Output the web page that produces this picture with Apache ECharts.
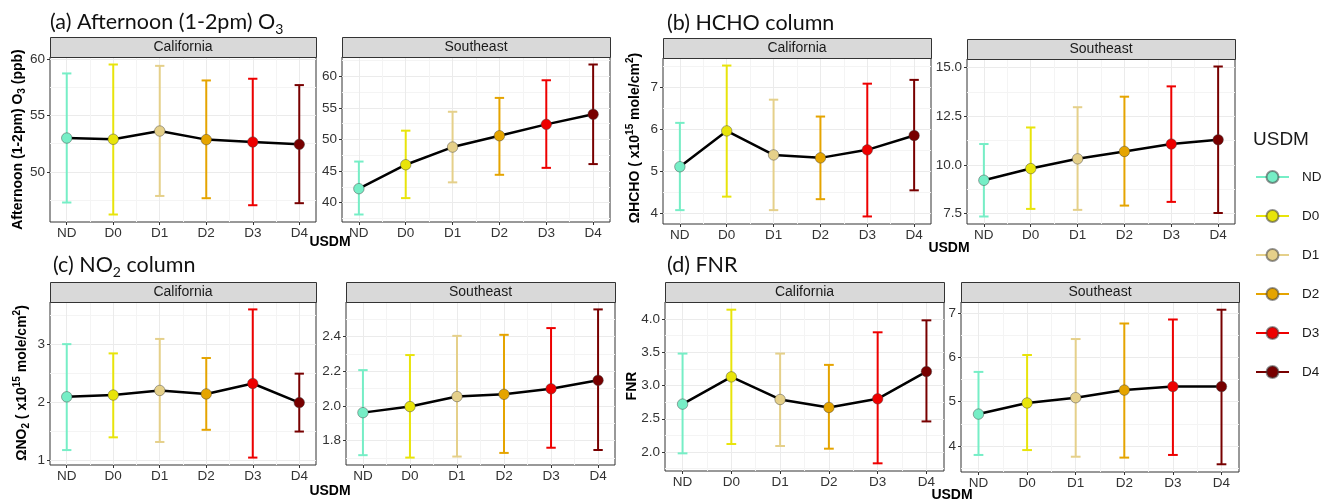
<!DOCTYPE html>
<html><head><meta charset="utf-8">
<script src="https://cdn.jsdelivr.net/npm/echarts@6/dist/echarts.min.js"></script>
<style>html,body{margin:0;padding:0;background:#fff}#c{width:1330px;height:501px}</style>
</head><body><div id="c"></div>
<script>
// ---------- data ----------
const categories = ['ND', 'D0', 'D1', 'D2', 'D3', 'D4'];
const regions = ['California', 'Southeast'];

const o3CalMean = [53.0, 52.89, 53.62, 52.86, 52.65, 52.44];
const o3CalLow  = [47.3, 46.24, 47.88, 47.68, 47.06, 47.24];
const o3CalHigh = [58.71, 59.5, 59.38, 58.09, 58.24, 57.68];
const o3SeMean  = [42.2, 46.0, 48.8, 50.6, 52.4, 54.0];
const o3SeLow   = [38.1, 40.7, 43.2, 44.4, 45.5, 46.1];
const o3SeHigh  = [46.5, 51.4, 54.4, 56.6, 59.4, 61.9];

const hchoCalMean = [5.11, 5.96, 5.39, 5.32, 5.51, 5.85];
const hchoCalLow  = [4.08, 4.40, 4.08, 4.34, 3.93, 4.55];
const hchoCalHigh = [6.15, 7.51, 6.70, 6.30, 7.08, 7.17];
const hchoSeMean  = [9.21, 9.81, 10.31, 10.69, 11.07, 11.29];
const hchoSeLow   = [7.35, 7.74, 7.69, 7.91, 8.10, 7.53];
const hchoSeHigh  = [11.07, 11.92, 12.96, 13.50, 14.03, 15.05];

const no2CalMean = [2.09, 2.12, 2.20, 2.14, 2.32, 1.99];
const no2CalLow  = [1.17, 1.39, 1.31, 1.52, 1.04, 1.49];
const no2CalHigh = [3.00, 2.84, 3.09, 2.76, 3.60, 2.49];
const no2SeMean  = [1.961, 1.996, 2.054, 2.067, 2.099, 2.148];
const no2SeLow   = [1.715, 1.701, 1.707, 1.728, 1.758, 1.745];
const no2SeHigh  = [2.207, 2.294, 2.405, 2.411, 2.450, 2.558];

const fnrCalMean = [2.72, 3.13, 2.79, 2.67, 2.80, 3.21];
const fnrCalLow  = [1.98, 2.12, 2.09, 2.05, 1.83, 2.46];
const fnrCalHigh = [3.48, 4.14, 3.48, 3.31, 3.80, 3.98];
const fnrSeMean  = [4.72, 4.97, 5.09, 5.26, 5.34, 5.34];
const fnrSeLow   = [3.80, 3.91, 3.76, 3.74, 3.80, 3.59];
const fnrSeHigh  = [5.67, 6.05, 6.41, 6.76, 6.85, 7.07];

const o3CalTicks = [50, 55, 60];
const o3SeTicks = [40, 45, 50, 55, 60];
const hchoCalTicks = [4, 5, 6, 7];
const hchoSeTicks = [7.5, 10, 12.5, 15];
const no2CalTicks = [1, 2, 3];
const no2SeTicks = [1.8, 2.0, 2.2, 2.4];
const fnrCalTicks = [2.0, 2.5, 3.0, 3.5, 4.0];
const fnrSeTicks = [4, 5, 6, 7];

// ---------- styles / layout ----------
const FONT = '"Liberation Sans", Arial, sans-serif';
const TFONT = 'Lato, "Open Sans", sans-serif';
const colors = ['#76EEC6', '#E8E40A', '#E5D08A', '#E5A400', '#EE0000', '#780000'];
const ERR_W = 0.2;
const XPAD = ERR_W / 2 + 0.05 * (categories.length - 1 + ERR_W);

const panels = [
  {mean: o3CalMean, low: o3CalLow, high: o3CalHigh, ticks: o3CalTicks, dec: 0, region: regions[0], box: [50, 57, 266, 165]},
  {mean: o3SeMean, low: o3SeLow, high: o3SeHigh, ticks: o3SeTicks, dec: 0, region: regions[1], box: [342, 57, 268, 165]},
  {mean: hchoCalMean, low: hchoCalLow, high: hchoCalHigh, ticks: hchoCalTicks, dec: 0, region: regions[0], box: [663, 58, 268, 166]},
  {mean: hchoSeMean, low: hchoSeLow, high: hchoSeHigh, ticks: hchoSeTicks, dec: 1, region: regions[1], box: [967, 59, 268, 165]},
  {mean: no2CalMean, low: no2CalLow, high: no2CalHigh, ticks: no2CalTicks, dec: 0, region: regions[0], box: [50, 302, 266, 163]},
  {mean: no2SeMean, low: no2SeLow, high: no2SeHigh, ticks: no2SeTicks, dec: 1, region: regions[1], box: [346, 302, 269, 163]},
  {mean: fnrCalMean, low: fnrCalLow, high: fnrCalHigh, ticks: fnrCalTicks, dec: 1, region: regions[0], box: [665, 302, 279, 169]},
  {mean: fnrSeMean, low: fnrSeLow, high: fnrSeHigh, ticks: fnrSeTicks, dec: 0, region: regions[1], box: [961, 302, 278, 170]}
];

const chart = echarts.init(document.getElementById('c'), null, {renderer: 'canvas'});

const grid = [], xAxis = [], yAxis = [], series = [], graphic = [];
const xIdx = categories.map((c, i) => i);
const xMinor = xIdx.slice(0, -1).map(i => i + 0.5);

function errRender(params, api) {
  const x = api.value(0), lo = api.value(1), hi = api.value(2);
  const pLo = api.coord([x, lo]), pHi = api.coord([x, hi]);
  const l = api.coord([x - ERR_W / 2, lo])[0], r = api.coord([x + ERR_W / 2, lo])[0];
  const st = {stroke: colors[params.dataIndex], lineWidth: 2};
  return {type: 'group', children: [
    {type: 'line', shape: {x1: pLo[0], y1: pLo[1], x2: pHi[0], y2: pHi[1]}, style: st},
    {type: 'line', shape: {x1: l, y1: pLo[1], x2: r, y2: pLo[1]}, style: st},
    {type: 'line', shape: {x1: l, y1: pHi[1], x2: r, y2: pHi[1]}, style: st}
  ]};
}

panels.forEach((p, k) => {
  const [bx, by, bw, bh] = p.box;
  grid.push({left: bx, top: by, width: bw, height: bh, show: true, borderColor: '#333', borderWidth: 1, backgroundColor: '#fff'});
  const lo = Math.min(...p.low), hi = Math.max(...p.high), pad = (hi - lo) * 0.05;
  const ymin = lo - pad, ymax = hi + pad;
  const step = p.ticks[1] - p.ticks[0];
  const minors = [];
  for (let v = p.ticks[0] - step / 2; v <= p.ticks[p.ticks.length - 1] + step / 2 + 1e-9; v += step) {
    if (v > ymin && v < ymax) minors.push(+v.toFixed(6));
  }
  const xmin = -XPAD, xmax = categories.length - 1 + XPAD;
  xAxis.push({gridIndex: k, type: 'value', min: xmin, max: xmax, position: 'bottom',
    axisLine: {show: false, onZero: false},
    axisTick: {show: true, length: 3, lineStyle: {color: '#333'}, customValues: xIdx},
    axisLabel: {customValues: xIdx, formatter: v => categories[Math.round(v)], color: '#333', fontSize: 13.5, fontFamily: FONT, margin: 4},
    splitLine: {show: true, lineStyle: {color: '#EBEBEB', width: 1}}});
  xAxis.push({gridIndex: k, type: 'value', min: xmin, max: xmax, position: 'top',
    axisLine: {show: false, onZero: false},
    axisTick: {show: false, customValues: xMinor},
    axisLabel: {show: false, customValues: xMinor},
    splitLine: {show: true, lineStyle: {color: '#F4F4F4', width: 1}}});
  yAxis.push({gridIndex: k, type: 'value', min: ymin, max: ymax, position: 'left',
    axisLine: {show: false, onZero: false},
    axisTick: {show: true, length: 3, lineStyle: {color: '#333'}, customValues: p.ticks},
    axisLabel: {customValues: p.ticks, formatter: v => v.toFixed(p.dec), color: '#333', fontSize: 13.5, fontFamily: FONT, margin: 5},
    splitLine: {show: true, lineStyle: {color: '#EBEBEB', width: 1}}});
  yAxis.push({gridIndex: k, type: 'value', min: ymin, max: ymax, position: 'right',
    axisLine: {show: false, onZero: false},
    axisTick: {show: false, customValues: minors},
    axisLabel: {show: false, customValues: minors},
    splitLine: {show: true, lineStyle: {color: '#F4F4F4', width: 1}}});

  const xi = 2 * k, yi = 2 * k;
  series.push({type: 'custom', xAxisIndex: xi, yAxisIndex: yi, z: 2, silent: true,
    data: categories.map((c, i) => [i, p.low[i], p.high[i]]),
    encode: {x: 0, y: [1, 2]}, renderItem: errRender});
  series.push({type: 'line', xAxisIndex: xi, yAxisIndex: yi, z: 3, silent: true, symbol: 'none',
    data: categories.map((c, i) => [i, p.mean[i]]), lineStyle: {color: '#000', width: 2.5}});
  categories.forEach((c, i) => {
    series.push({type: 'line', name: c, xAxisIndex: xi, yAxisIndex: yi, z: 4, silent: true,
      data: [[i, p.mean[i]]], symbol: 'circle', symbolSize: 10.5, showSymbol: true,
      itemStyle: {color: colors[i], borderColor: 'rgba(60,60,60,0.55)', borderWidth: 0.8},
      lineStyle: {color: colors[i], width: 2.5}});
  });

  // strip
  graphic.push({type: 'rect', silent: true, z: 10, shape: {x: bx + 0.5, y: by - 20 + 0.5, width: bw, height: 20},
    style: {fill: '#D9D9D9', stroke: '#333', lineWidth: 1}});
  graphic.push({type: 'text', silent: true, z: 11, x: bx + bw / 2, y: by - 10,
    style: {text: p.region, fill: '#1A1A1A', fontSize: 14, fontFamily: FONT, align: 'center', verticalAlign: 'middle', textAlign: 'center', textVerticalAlign: 'middle'}});
});

// titles
const titleRich = {
  m: {fontSize: 21.5, fontFamily: TFONT, fill: '#111'},
  s: {fontSize: 14, fontFamily: TFONT, fill: '#111', padding: [14, 0, 0, 0]}
};
const titles = [
  {text: '{m|(a) Afternoon (1-2pm) O}{s|3}', x: 50, y: 22},
  {text: '{m|(b) HCHO column}', x: 667, y: 23},
  {text: '{m|(c) NO}{s|2}{m| column}', x: 53, y: 265},
  {text: '{m|(d) FNR}', x: 667, y: 265}
];
titles.forEach(t => graphic.push({type: 'text', silent: true, x: t.x, y: t.y,
  style: {text: t.text, rich: titleRich, align: 'left', verticalAlign: 'middle', textAlign: 'left', textVerticalAlign: 'middle'}}));

// axis titles
const axRich = {
  b: {fontSize: 14, fontWeight: 'bold', fontFamily: FONT, fill: '#000'},
  sub: {fontSize: 10, fontWeight: 'bold', fontFamily: FONT, fill: '#000', padding: [9, 0, 0, 0]},
  sup: {fontSize: 10, fontWeight: 'bold', fontFamily: FONT, fill: '#000', padding: [0, 0, 9, 0]}
};
const yTitles = [
  {text: '{b|Afternoon (1-2pm) O}{sub|3}{b| (ppb)}', x: 18, y: 139.5},
  {text: '{b|ΩHCHO ( x10}{sup|15}{b| mole/cm}{sup|2}{b|)}', x: 635, y: 138},
  {text: '{b|ΩNO}{sub|2}{b| ( x10}{sup|15}{b| mole/cm}{sup|2}{b|)}', x: 22, y: 383},
  {text: '{b|FNR}', x: 632, y: 386}
];
yTitles.forEach(t => graphic.push({type: 'text', silent: true, x: t.x, y: t.y, rotation: Math.PI / 2,
  style: {text: t.text, rich: axRich, align: 'center', verticalAlign: 'middle', textAlign: 'center', textVerticalAlign: 'middle'}}));
const xTitles = [[330, 242], [949, 248], [330, 491], [952, 495]];
xTitles.forEach(([x, y]) => graphic.push({type: 'text', silent: true, x: x, y: y,
  style: {text: 'USDM', fontSize: 14, fontWeight: 'bold', fontFamily: FONT, fill: '#000', align: 'center', verticalAlign: 'middle', textAlign: 'center', textVerticalAlign: 'middle'}}));

// legend title
graphic.push({type: 'text', silent: true, x: 1253, y: 140,
  style: {text: 'USDM', fontSize: 19, fontFamily: FONT, fill: '#1A1A1A', align: 'left', verticalAlign: 'middle', textAlign: 'left', textVerticalAlign: 'middle'}});

chart.setOption({
  animation: false,
  backgroundColor: '#fff',
  grid, xAxis, yAxis, series, graphic,
  legend: {data: categories, orient: 'vertical', left: 1255, top: 170, itemWidth: 33, itemHeight: 15, itemGap: 25, padding: 0,
    selectedMode: false,
    textStyle: {fontSize: 13.5, color: '#1A1A1A', fontFamily: FONT, padding: [0, 0, 0, 8]}}
});
</script></body></html>
